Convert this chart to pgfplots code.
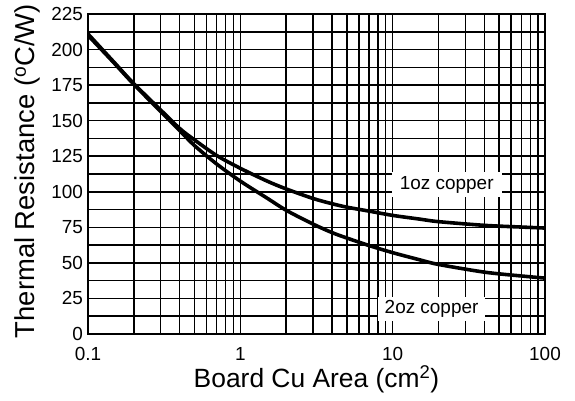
\documentclass[border=0pt]{standalone}
\usepackage{pgfplots}
\pgfplotsset{compat=1.18}
\usepackage{fontspec}
\setmainfont{Liberation Sans}

\begin{document}
\begin{tikzpicture}[x=1bp,y=1bp]
\begin{axis}[
    at={(0,0)}, anchor=south west,
    scale only axis,
    width=457bp, height=320bp,
    xmode=log,
    xmin=0.1, xmax=100,
    ymin=0, ymax=225,
    xtick={0.1,1,10,100},
    xticklabels={0.1,1,10,100},
    ytick={0,25,...,225},
    minor ytick={12.5,37.5,...,212.5},
    grid=both,
    major grid style={black, line width=1.5pt},
    minor grid style={black, line width=1.5pt},
    axis line style={line width=2.2pt},
    tick style={draw=none},
    /pgf/number format/assume math mode=true,
    tick label style={font=\fontsize{19}{22}\selectfont},
    xticklabel style={anchor=base, yshift=-26bp},
    yticklabel style={xshift=-1.5bp},
    xlabel={Board Cu Area (cm\textsuperscript{2})},
    xlabel style={font=\fontsize{26.5}{30}\selectfont,
        at={(axis description cs:0.5,-0.1656)}, anchor=base},
    ylabel={Thermal Resistance (\textsuperscript{o}C/W)},
    ylabel style={font=\fontsize{27.5}{30}\selectfont,
        at={(axis description cs:-0.116,0.509)}, anchor=base},
]
% 1oz copper
\addplot[black, line width=3.6pt, smooth] coordinates {
    (0.1,211) (0.15,190.5) (0.2,176) (0.3,157.5) (0.4,144.5) (0.5,136.5)
    (0.7,125.5) (1,116.5) (1.5,107.5) (2,102) (3,95.3) (4,91.6) (5,89.2)
    (7,86.4) (10,83.4) (15,80.8) (20,79) (40,76.4) (70,75.2) (100,74.5)
};
% 2oz copper
\addplot[black, line width=3.6pt, smooth] coordinates {
    (0.1,210) (0.15,190) (0.2,175.5) (0.3,156.5) (0.4,143) (0.5,132.5)
    (0.7,119.5) (1,107.5) (1.5,95.5) (2,87) (3,77.3) (4,71.3) (5,67.5)
    (7,62.2) (10,57.2) (15,52.2) (20,48.9) (40,43.5) (70,40.8) (100,39.3)
};
\node[fill=white, inner sep=0pt, minimum width=110bp, minimum height=25bp,
      font=\fontsize{19}{22}\selectfont] at (axis cs:22.65,105) {1oz copper};
\node[fill=white, inner sep=0pt, minimum width=107bp, minimum height=24bp,
      font=\fontsize{19}{22}\selectfont] at (axis cs:18,17.5) {2oz copper};
\end{axis}
\pgfresetboundingbox
\path[use as bounding box] (-88,-66) rectangle (487,334);
\end{tikzpicture}
\end{document}
